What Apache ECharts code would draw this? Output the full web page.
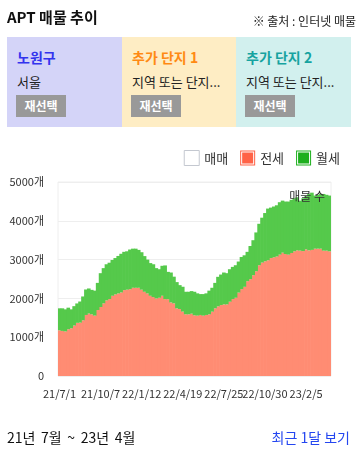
<!DOCTYPE html>
<html>
<head>
<meta charset="utf-8">
<script src="https://cdn.jsdelivr.net/npm/echarts/dist/echarts.min.js"></script>
<style>
  html,body{margin:0;padding:0;background:#fff;}
  body{width:360px;height:450px;overflow:hidden;position:relative;font-family:'Noto Sans CJK KR','Noto Sans',sans-serif;}
  #chart{position:absolute;left:0;top:0;width:360px;height:450px;}
  .abs{position:absolute;white-space:nowrap;}
  .panel{position:absolute;top:37px;height:90px;}
  .panel .h{position:absolute;left:10px;top:11px;font-size:14px;font-weight:bold;line-height:18px;}
  .panel .s{position:absolute;left:10px;top:37px;font-size:13px;line-height:16px;color:#222;}
  .panel .b{position:absolute;left:9px;top:58px;width:50px;height:22px;line-height:22px;background:#999;color:#fff;font-size:12px;font-weight:bold;text-align:center;}
</style>
</head>
<body>
<div id="chart"></div>
<div class="abs" style="left:7px;top:8px;font-size:15px;font-weight:bold;line-height:18px;color:#111;">APT 매물 추이</div>
<div class="abs" style="right:4px;top:13px;font-size:12px;line-height:16px;color:#222;">※ 출처 : 인터넷 매물</div>
<div class="panel" style="left:7px;width:115px;background:#D4D4F8;">
  <div class="h" style="color:#3333EE;">노원구</div>
  <div class="s">서울</div>
  <div class="b">재선택</div>
</div>
<div class="panel" style="left:122px;width:114px;background:#FEEDC4;">
  <div class="h" style="color:#FF8A14;">추가 단지 1</div>
  <div class="s">지역 또는 단지...</div>
  <div class="b">재선택</div>
</div>
<div class="panel" style="left:236px;width:115px;background:#D2F0EE;">
  <div class="h" style="color:#16A3A0;">추가 단지 2</div>
  <div class="s">지역 또는 단지...</div>
  <div class="b">재선택</div>
</div>
<div class="abs" style="left:7px;top:428px;font-size:14px;line-height:18px;color:#111;word-spacing:2.5px;">21년 7월 ~ 23년 4월</div>
<div class="abs" style="right:10px;top:428px;font-size:14px;line-height:18px;color:#2446F0;">최근 1달 보기</div>
<script>
const categories = [
  '21/7/1','21/7/8','21/7/15','21/7/22','21/7/29','21/8/5','21/8/12','21/8/19','21/8/26','21/9/2','21/9/9','21/9/16','21/9/23','21/9/30',
  '21/10/7','21/10/14','21/10/21','21/10/28','21/11/4','21/11/11','21/11/18','21/11/25','21/12/2','21/12/9','21/12/16','21/12/23','21/12/30','22/1/6',
  '22/1/12','22/1/19','22/1/26','22/2/2','22/2/9','22/2/16','22/2/23','22/3/2','22/3/9','22/3/16','22/3/23','22/3/30','22/4/6','22/4/13',
  '22/4/19','22/4/26','22/5/3','22/5/10','22/5/17','22/5/24','22/5/31','22/6/7','22/6/14','22/6/21','22/6/28','22/7/5','22/7/12','22/7/19',
  '22/7/25','22/8/1','22/8/8','22/8/15','22/8/22','22/8/29','22/9/5','22/9/12','22/9/19','22/9/26','22/10/3','22/10/10','22/10/17','22/10/24',
  '22/10/30','22/11/6','22/11/13','22/11/20','22/11/27','22/12/4','22/12/11','22/12/18','22/12/25','23/1/1','23/1/8','23/1/15','23/1/22','23/1/29',
  '23/2/5','23/2/12','23/2/19','23/2/26','23/3/5','23/3/12','23/3/19','23/3/26','23/4/2'
];
const maemae = [];
const jeonse = [
  1179,1162,1150,1205,1230,1300,1370,1376,1436,1573,
  1610,1590,1556,1700,1778,1872,1949,1983,2068,2103,
  2128,2154,2214,2225,2239,2274,2274,2274,2225,2171,
  2128,2068,2034,2000,2017,2068,1983,1980,1897,1872,
  1744,1726,1660,1590,1590,1607,1564,1556,1573,1556,
  1573,1590,1658,1744,1795,1829,1846,1846,1915,1983,
  2017,2150,2239,2299,2444,2496,2598,2700,2855,2923,
  2957,2983,3040,3060,3080,3128,3179,3145,3128,3171,
  3214,3240,3231,3220,3265,3239,3250,3282,3282,3282,
  3231,3231,3214
];
const wolse = [
  565,582,568,556,488,500,500,544,614,657,
  646,630,644,700,872,908,931,937,922,937,
  966,996,986,989,1021,1008,1008,976,965,919,
  872,842,846,780,735,772,867,704,770,688,
  676,616,640,581,581,581,607,574,538,555,
  557,610,616,656,761,786,821,804,837,829,
  838,800,829,812,756,854,902,1000,1068,1157,
  1243,1332,1300,1308,1320,1351,1341,1351,1368,1369,
  1367,1367,1289,1361,1367,1453,1475,1368,1385,1410,
  1461,1439,1436
];
const yMin = 0, yMax = 5000, yStep = 1000;

const checkIcon = 'path://M0 0H15V15H0Z M1 1V14H14V1Z M2 2H13V13H2Z';
const chart = echarts.init(document.getElementById('chart'));
chart.setOption({
  animation: false,
  textStyle: { fontFamily: "'Noto Sans CJK KR', sans-serif" },
  title: {
    text: '매물 수', right: 30, top: 185,
    textStyle: { fontSize: 12, fontWeight: 'normal', color: '#333' }
  },
  legend: {
    right: 15, top: 145, itemWidth: 15, itemHeight: 15, itemGap: 12,
    textStyle: { fontSize: 13, color: '#333' },
    data: [
      { name: '매매', icon: 'rect', itemStyle: { color: '#fff', borderColor: '#c4c8d0', borderWidth: 1 } },
      { name: '전세', icon: checkIcon, itemStyle: { color: '#FF6347' } },
      { name: '월세', icon: checkIcon, itemStyle: { color: '#1DAF1D' } }
    ]
  },
  grid: { left: 58, right: 29, top: 182, bottom: 74, show: true, borderColor: '#eee', borderWidth: 1 },
  xAxis: {
    type: 'category', data: categories,
    axisLine: { show: false }, axisTick: { show: false },
    axisLabel: { interval: 13, fontSize: 11, color: '#333', margin: 12 }
  },
  yAxis: {
    type: 'value', min: yMin, max: yMax, interval: yStep,
    axisLine: { show: false }, axisTick: { show: false },
    axisLabel: { fontSize: 11, color: '#333', margin: 14, formatter: v => v === 0 ? '0' : v + '개' },
    splitLine: { lineStyle: { color: '#eee' } }
  },
  series: [
    { name: '매매', type: 'bar', stack: 'total', data: maemae, barWidth: 3.6, itemStyle: { color: '#fff' } },
    { name: '전세', type: 'bar', stack: 'total', data: jeonse, barWidth: 3.6,
      itemStyle: { color: '#FF8C73' } },
    { name: '월세', type: 'bar', stack: 'total', data: wolse, barWidth: 3.6,
      itemStyle: { color: '#55C94B' } }
  ]
});
</script>
</body>
</html>
